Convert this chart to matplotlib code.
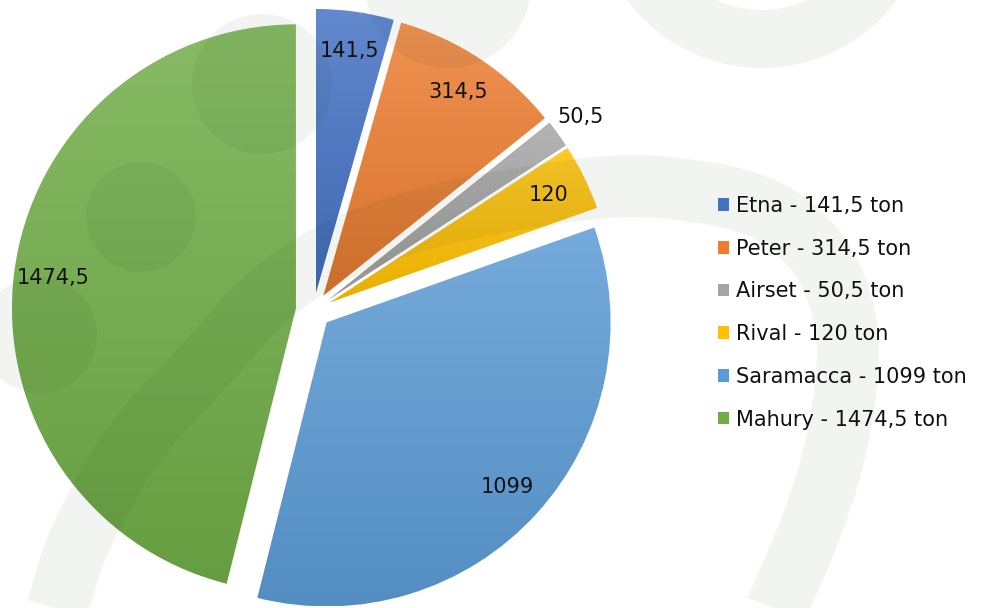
import numpy as np
import matplotlib
matplotlib.use('Agg')
import matplotlib.pyplot as plt
from matplotlib.patches import Circle, Wedge, Patch
from matplotlib.lines import Line2D
from matplotlib.colors import to_rgb
import matplotlib.transforms as mtransforms

# ---------------- data ----------------
categories = ['Etna', 'Peter', 'Airset', 'Rival', 'Saramacca', 'Mahury']
values = [141.5, 314.5, 50.5, 120, 1099, 1474.5]
unit = 'ton'
colors = ['#4472C4', '#ED7D31', '#A5A5A5', '#FFC000', '#5B9BD5', '#70AD47']

def fmt(v):
    return f"{v:g}".replace('.', ',')

plt.rcParams['font.family'] = ['DejaVu Sans']

W, H = 982, 608
fig = plt.figure(figsize=(W / 100, H / 100), dpi=100)
fig.patch.set_facecolor('white')

ax = fig.add_axes([0, 0, 1, 1])
explode = [0.0623] * len(values)
wedges, _ = ax.pie(values, colors=colors, startangle=90, counterclock=False,
                   explode=explode, radius=1.0,
                   wedgeprops=dict(linewidth=0))

# pixel layout of the pie
R_px, cx_px, cy_px = 284.0, 313.5, 310.5
ax.axis('off')

def mix(c, other, t):
    c = np.array(to_rgb(c)); o = np.array(to_rgb(other))
    return c * (1 - t) + o * t

# gradient fills for each wedge
for w, c in zip(wedges, colors):
    path = w.get_path()
    ext = path.get_extents()
    top = mix(c, 'white', 0.16)
    bot = mix(c, 'black', 0.09)
    t = np.linspace(0, 1, 256)[:, None, None]
    img = top[None, None, :] * (1 - t) + bot[None, None, :] * t
    im = ax.imshow(img, extent=(ext.x0, ext.x1, ext.y0, ext.y1), origin='upper',
                   aspect='auto', zorder=2, interpolation='bilinear')
    im.set_clip_path(w)
    w.set_facecolor('none')
    w.set_edgecolor('none')

ax.set_aspect('auto')
ax.set_xlim(-cx_px / R_px, (W - cx_px) / R_px)
ax.set_ylim(-(H - cy_px) / R_px, cy_px / R_px)

# ---------------- watermark (pixel coords from top-left) ----------------
pix = mtransforms.Affine2D().scale(1 / W, -1 / H).translate(0, 1) + fig.transFigure
wm_col = (0.09, 0.22, 0.09)
wm_alpha = 0.055

for (x, y, r) in [(262, 84, 70), (141, 217, 55), (39, 335, 58), (448, -15, 83)]:
    ax.add_patch(Circle((x, y), r, transform=pix, facecolor=wm_col, alpha=wm_alpha,
                        edgecolor='none', zorder=3, clip_on=False))
ax.add_patch(Wedge((762, -100), 168, 0, 360, width=58, transform=pix, facecolor=wm_col,
                   alpha=wm_alpha, edgecolor='none', zorder=3, clip_on=False))

pts = np.array([(45, 650), (60, 600), (80, 540), (130, 450), (200, 370), (296, 275),
                (420, 220), (597, 188), (700, 192), (770, 212), (815, 250),
                (840, 300), (848, 360), (835, 450), (810, 530), (777, 608), (765, 650)], float)

def catmull(p, n=30):
    p = np.vstack([p[0], p, p[-1]])
    out = []
    for i in range(1, len(p) - 2):
        p0, p1, p2, p3 = p[i - 1], p[i], p[i + 1], p[i + 2]
        for tt in np.linspace(0, 1, n, endpoint=False):
            t2, t3 = tt * tt, tt * tt * tt
            out.append(0.5 * ((2 * p1) + (-p0 + p2) * tt + (2 * p0 - 5 * p1 + 4 * p2 - p3) * t2
                              + (-p0 + 3 * p1 - 3 * p2 + p3) * t3))
    out.append(p[-2])
    return np.array(out)

band = catmull(pts)
ax.add_line(Line2D(band[:, 0], band[:, 1], transform=pix, color=wm_col, alpha=wm_alpha,
                   linewidth=62 * 72 / 100, solid_capstyle='butt', solid_joinstyle='round',
                   zorder=3, clip_on=False))

# ---------------- data labels ----------------
total = sum(values)
for w, v in zip(wedges, values):
    mid = np.deg2rad((w.theta1 + w.theta2) / 2)
    frac = v / total
    d = 1.10 if frac < 0.03 else 0.86
    x = w.center[0] + d * np.cos(mid)
    y = w.center[1] + d * np.sin(mid)
    ax.text(x, y, fmt(v), ha='center', va='center', fontsize=15, color='#111111', zorder=5)

# ---------------- legend ----------------
handles = [Patch(facecolor=c, edgecolor='none') for c in colors]
labels = [f"{c} - {fmt(v)} {unit}" for c, v in zip(categories, values)]
leg = ax.legend(handles, labels, loc='upper left',
                bbox_to_anchor=(718 / W, 1 - 196 / H), bbox_transform=fig.transFigure,
                frameon=False, fontsize=15, handlelength=0.55, handleheight=0.55,
                handletextpad=0.3, labelspacing=1.09, borderpad=0, borderaxespad=0)
for t in leg.get_texts():
    t.set_color('#111111')
leg.set_zorder(6)

fig.savefig('out.png', dpi=100)
